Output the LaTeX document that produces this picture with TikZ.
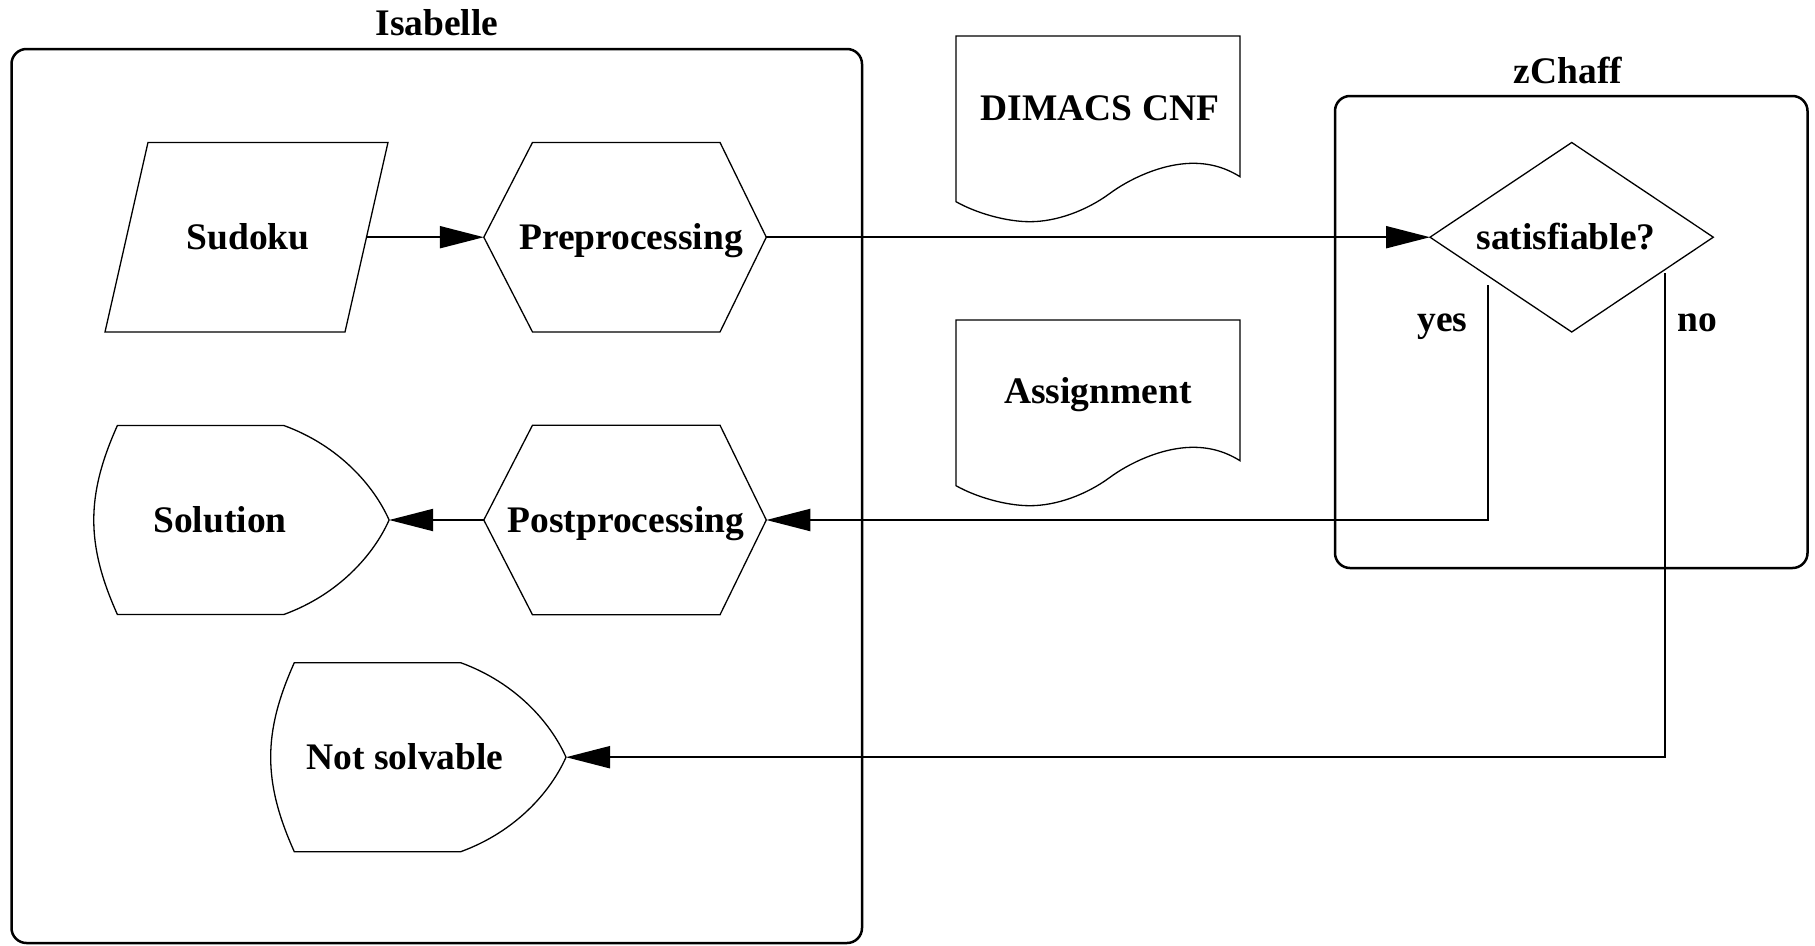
\documentclass[tikz,border=0pt]{standalone}
\usepackage{fontspec}
\setmainfont{Liberation Serif}
\usetikzlibrary{arrows.meta}
\begin{document}
\begin{tikzpicture}[x=1pt,y=-1pt,
  outline/.style={draw=black,line width=1.3pt,line join=miter},
  grp/.style={draw=black,line width=2.5pt,rounded corners=15pt},
  conn/.style={draw=black,line width=2pt},
  arr/.style={conn,-{Triangle[length=44pt,width=22pt]}},
  txt/.style={font=\fontsize{37.5}{45}\selectfont\bfseries,inner sep=0pt,anchor=base},
  docsh/.pic={\draw[outline] (0,0) -- (284,0) -- (284,140.7)
      .. controls (270,132) and (255,127.3) .. (237.3,127.3)
      .. controls (205,127.3) and (172,144) .. (154,157.3)
      .. controls (130,175) and (100,185.7) .. (74,185.7)
      .. controls (50,185.7) and (20,177) .. (0,165.7) -- cycle;},
  dispsh/.pic={\draw[outline] (23.6,-94.5) -- (190,-94.5)
      .. controls (245,-74.5) and (280,-34.5) .. (295.3,0)
      .. controls (280,34.5) and (245,74.5) .. (190,94.5)
      -- (23.6,94.5)
      .. controls (-7.9,24.5) and (-7.9,-24.5) .. cycle;}
]
\useasboundingbox (0,0) rectangle (1815,945);

% groups
\draw[grp] (11.5,49) rectangle (862,943);
\node[txt] (isatitle) at (437,35.5) {Isabelle};
\draw[grp] (1335,96) rectangle (1807.5,568);
\node[txt] (zctitle) at (1568,83.3) {zChaff};

% Sudoku
\draw[outline] (148,142.4) -- (388,142.4) -- (345,332) -- (105,332) -- cycle;
\coordinate (sudR) at (366.5,237.2);
\node[txt] (sudoku) at (248,249.2) {Sudoku};

% Preprocessing
\draw[outline] (483.8,237.2) -- (532.5,142.4) -- (720,142.4) -- (766.3,237.2) -- (720,332) -- (532.5,332) -- cycle;
\coordinate (preL) at (483.8,237.2);
\coordinate (preR) at (766.3,237.2);
\node[txt] (pre) at (631,249.2) {Preprocessing};

% Postprocessing
\draw[outline] (483.8,520) -- (532.5,425.2) -- (720,425.2) -- (766.3,520) -- (720,614.8) -- (532.5,614.8) -- cycle;
\coordinate (postL) at (483.8,520);
\coordinate (postR) at (766.3,520);
\node[txt] (post) at (626,532) {Postprocessing};

% Solution
\pic at (93.8,520) {dispsh};
\coordinate (solR) at (389.1,520);
\node[txt] (solution) at (220,532) {Solution};

% Not solvable
\pic at (270.7,757.2) {dispsh};
\coordinate (nsR) at (566,757.2);
\node[txt] (notsolv) at (405,769.2) {Not solvable};

% Documents
\pic at (956,36) {docsh};
\node[txt] (dimacs) at (1100,120) {DIMACS CNF};
\pic at (956,320) {docsh};
\node[txt] (assign) at (1098,403.5) {Assignment};

% Decision
\draw[outline] (1430,237.2) -- (1571.7,142.5) -- (1713.3,237.2) -- (1571.7,332) -- cycle;
\coordinate (satL) at (1430,237.2);
\node[txt] (sat) at (1566,249.2) {satisfiable?};
\coordinate (yesS) at (1488.3,285);
\coordinate (noS) at (1665,273.3);
\node[txt] (yes) at (1442.5,331.7) {yes};
\node[txt] (no) at (1697.5,331.7) {no};

% connectors
\draw[arr] (sudR) -- (preL);
\draw[arr] (preR) -- (satL);
\draw[arr] (postL) -- (solR);
\draw[arr] (yesS) |- (postR);
\draw[arr] (noS) |- (nsR);
\end{tikzpicture}
\end{document}
